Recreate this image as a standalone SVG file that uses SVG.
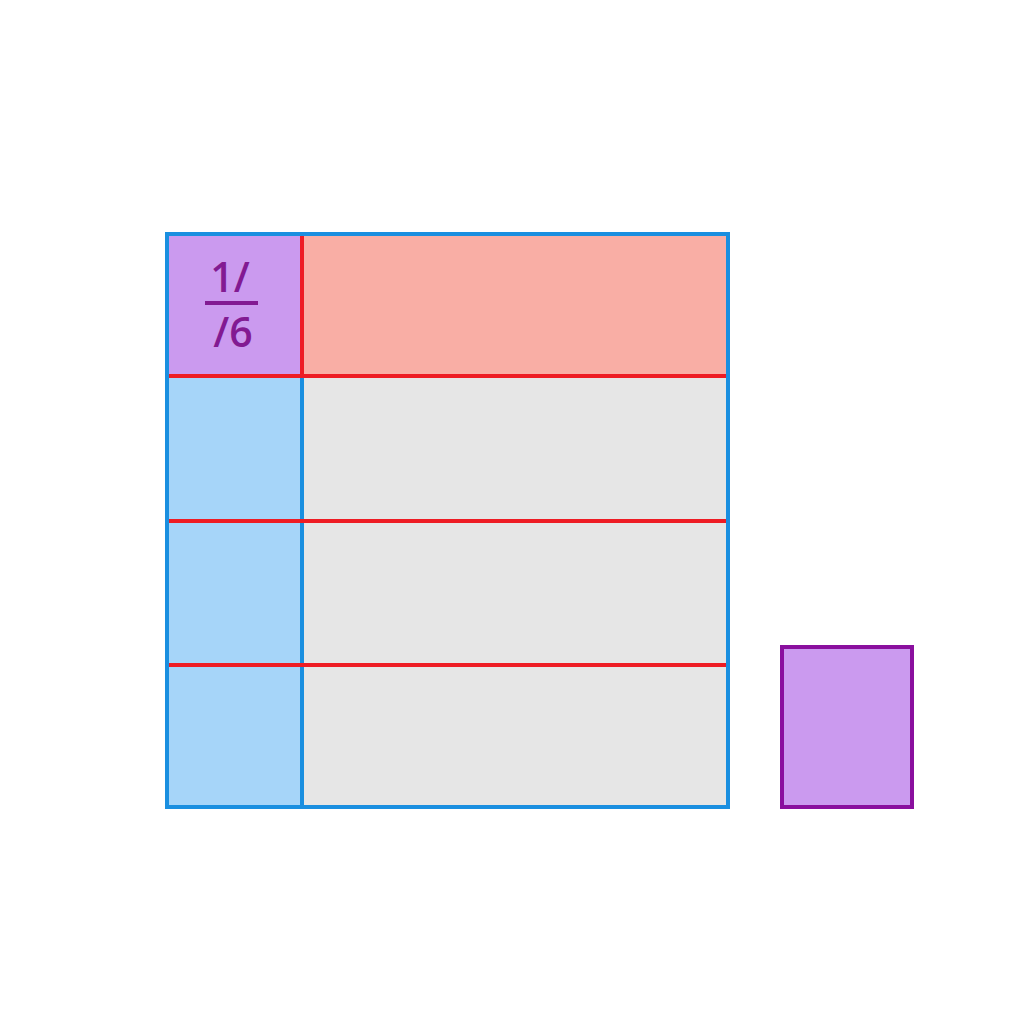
<svg xmlns="http://www.w3.org/2000/svg" width="1024" height="1024" viewBox="0 0 1024 1024">
<style>
.blue{fill:#a6d5f9}
.grey{fill:#e6e6e6}
.pink{fill:#f9aea5}
.purp{fill:#cb9aef}
.red{stroke:#ee1c24;stroke-width:4;fill:none}
.bl{stroke:#1a8fe0;stroke-width:4;fill:none}
.lbl{font-family:"Open Sans","Liberation Sans",sans-serif;font-size:41px;font-weight:600;fill:#821a92;text-anchor:middle}
</style>
<rect width="1024" height="1024" fill="#ffffff"/>
<g id="grid">
<rect class="purp" x="167" y="234" width="135" height="142"/>
<rect class="pink" x="302" y="234" width="426" height="142"/>
<rect class="blue" x="167" y="376" width="135" height="431"/>
<rect class="grey" x="302" y="376" width="426" height="431"/>
</g>
<g id="lines">
<line class="bl" x1="302" y1="376" x2="302" y2="807"/>
<line class="red" x1="302" y1="236" x2="302" y2="378"/>
<line class="red" x1="169" y1="376" x2="726" y2="376"/>
<line class="red" x1="169" y1="521" x2="726" y2="521"/>
<line class="red" x1="169" y1="665" x2="726" y2="665"/>
<rect class="bl" x="167" y="234" width="561" height="573"/>
</g>
<g id="label">
<text class="lbl" x="230" y="292">1/</text>
<line x1="205" y1="303" x2="258" y2="303" stroke="#821a92" stroke-width="4"/>
<text class="lbl" x="233" y="347">/6</text>
</g>
<g id="piece">
<rect class="purp" x="782" y="647" width="130" height="160" stroke="#8a0f9e" stroke-width="4"/>
</g>
</svg>
